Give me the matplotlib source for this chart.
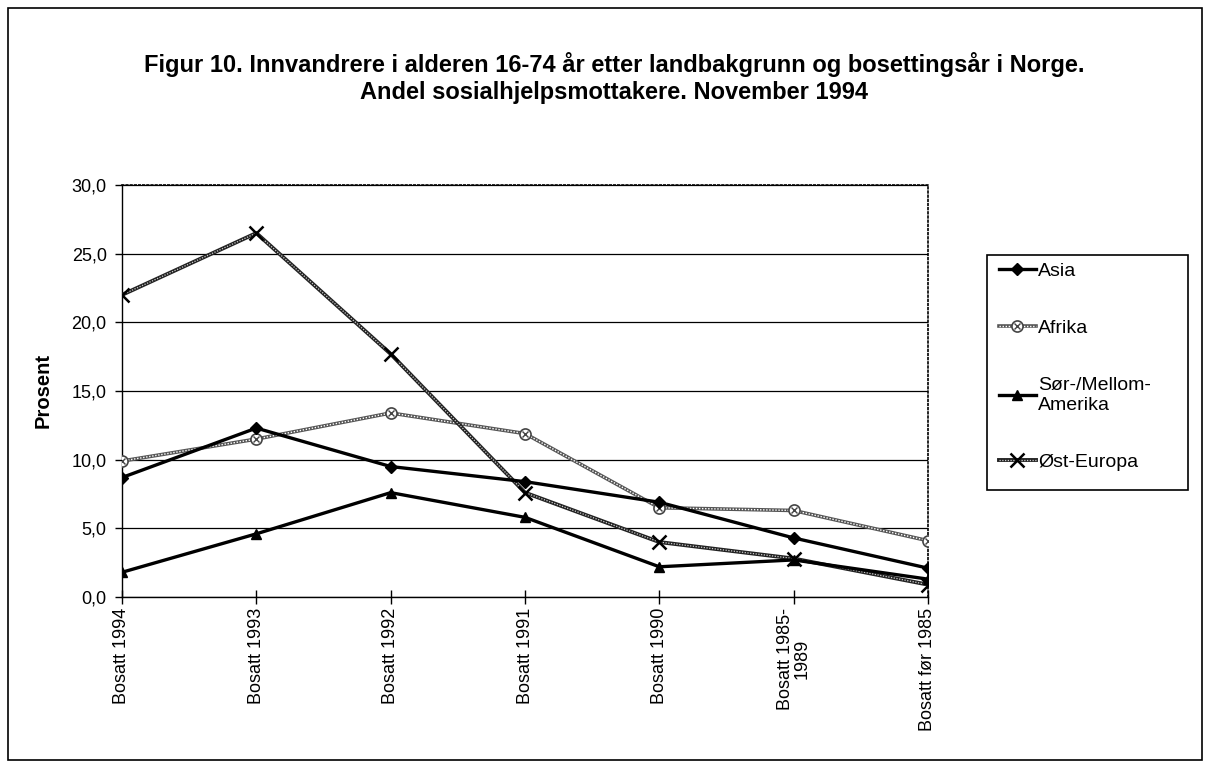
import matplotlib
matplotlib.use("Agg")
import matplotlib.pyplot as plt
from matplotlib.patches import Rectangle

plt.rcParams['font.family'] = ['Liberation Sans', 'DejaVu Sans']

# Categories (settlement year) and shares of social assistance recipients (%)
categories = ["Bosatt 1994", "Bosatt 1993", "Bosatt 1992", "Bosatt 1991",
              "Bosatt 1990", "Bosatt 1985-\n1989", "Bosatt før 1985"]
asia = [8.7, 12.3, 9.5, 8.4, 6.9, 4.3, 2.1]
afrika = [9.9, 11.5, 13.4, 11.9, 6.5, 6.3, 4.1]
sor_mellom_amerika = [1.8, 4.6, 7.6, 5.8, 2.2, 2.7, 1.3]
ost_europa = [22.0, 26.5, 17.7, 7.6, 4.0, 2.8, 0.9]

series_labels = ["Asia", "Afrika", "Sør-/Mellom-\nAmerika", "Øst-Europa"]
y_ticks = [0, 5, 10, 15, 20, 25, 30]
y_tick_labels = ["0,0", "5,0", "10,0", "15,0", "20,0", "25,0", "30,0"]

W, H = 1210, 767
fig = plt.figure(figsize=(W / 100, H / 100), dpi=100)
ax = fig.add_axes([122 / W, 1 - 597 / H, 806 / W, 412 / H])

x = list(range(len(categories)))

# Asia: solid black line with diamonds
l_asia, = ax.plot(x, asia, color='black', lw=2.4, marker='D', ms=6, zorder=4)

# Afrika: textured grey chain line with hatched circle markers
a1, = ax.plot(x, afrika, color='#555555', lw=2.6, zorder=3)
a2, = ax.plot(x, afrika, color='white', lw=1.0, ls=(0, (1, 1.2)), zorder=3,
              marker='o', ms=8, mfc='white', mec='#444444', mew=1.2)
a3, = ax.plot(x, afrika, ls='none', marker='x', ms=5, mec='#444444', mew=1.0, zorder=3)

# Sør-/Mellom-Amerika: solid black line with triangles
l_sor, = ax.plot(x, sor_mellom_amerika, color='black', lw=2.4, marker='^', ms=7, zorder=4)

# Øst-Europa: dark textured line with x markers
o1, = ax.plot(x, ost_europa, color='#222222', lw=2.8, zorder=3)
o2, = ax.plot(x, ost_europa, color='#cccccc', lw=0.9, ls=(0, (1, 1.2)), zorder=3)
o3, = ax.plot(x, ost_europa, ls='none', marker='x', ms=10, mec='black', mew=1.8, zorder=4)

ax.set_xlim(0, len(categories) - 1)
ax.set_ylim(0, 30)
ax.set_yticks(y_ticks)
ax.set_yticklabels(y_tick_labels, fontsize=13)
ax.set_xticks(x)
ax.set_xticklabels(categories, rotation=90, fontsize=13, ha='center', va='top',
                   multialignment='center', linespacing=1.0)

ax.yaxis.grid(True, color='black', lw=0.9)
ax.set_axisbelow(True)
ax.tick_params(axis='x', direction='inout', length=10, width=1, pad=3)
ax.tick_params(axis='y', direction='out', length=5, width=1, pad=6)

for side in ['left', 'bottom']:
    ax.spines[side].set_linewidth(1.0)
for side in ['top', 'right']:
    ax.spines[side].set_linestyle((0, (1, 1.5)))
    ax.spines[side].set_linewidth(1.2)

# Title and y label
fig.text(614 / W, 1 - 78 / H,
         "Figur 10. Innvandrere i alderen 16-74 år etter landbakgrunn og bosettingsår i Norge.\n"
         "Andel sosialhjelpsmottakere. November 1994",
         ha='center', va='center', fontsize=17, fontweight='bold', linespacing=1.2)
fig.text(43 / W, 1 - 391 / H, "Prosent", rotation=90, ha='center', va='center',
         fontsize=14.5, fontweight='bold')

# Outer frame and legend box
fig.patches.append(Rectangle((8 / W, 1 - 760 / H), 1194 / W, 752 / H, transform=fig.transFigure,
                             fill=False, edgecolor='black', lw=1.2))
fig.patches.append(Rectangle((987 / W, 1 - 490 / H), 201 / W, 235 / H, transform=fig.transFigure,
                             fill=False, edgecolor='black', lw=1.2))

fig.legend([l_asia, (a1, a2, a3), l_sor, (o1, o2, o3)], series_labels,
           loc='upper left', bbox_to_anchor=(999 / W, 1 - 262 / H), frameon=False,
           fontsize=14, handlelength=1.9, handletextpad=0.1, borderpad=0,
           borderaxespad=0, labelspacing=2.05)

fig.savefig("out.png", dpi=100)
